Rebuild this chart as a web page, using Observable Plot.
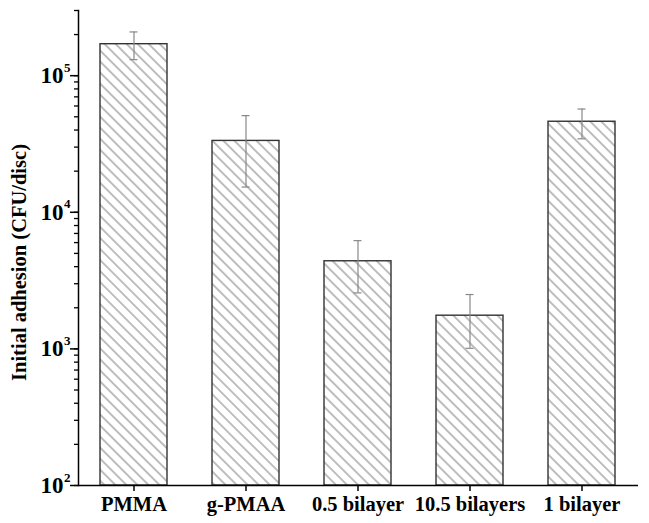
<!DOCTYPE html>
<html><head><meta charset="utf-8">
<script src="https://cdn.jsdelivr.net/npm/d3@7"></script>
<script src="https://cdn.jsdelivr.net/npm/@observablehq/plot@0.6"></script>
<style>body{margin:0;background:#fff}</style>
</head><body><div id="chart"></div>
<script>
const categories = ["PMMA", "g-PMAA", "0.5 bilayer", "10.5 bilayers", "1 bilayer"];
const means = [1.70e5, 3.33e4, 4.38e3, 1.75e3, 4.6e4];
const errLow = [1.31e5, 1.53e4, 2.57e3, 1.01e3, 3.45e4];
const errHigh = [2.09e5, 5.1e4, 6.2e3, 2.5e3, 5.7e4];
const majorTicks = [1e2, 1e3, 1e4, 1e5];
const exponents = ["2", "3", "4", "5"];
const yLabel = "Initial adhesion (CFU/disc)";

const data = categories.map((c, i) => ({category: c, mean: means[i], lo: errLow[i], hi: errHigh[i]}));
const majors = majorTicks.map((v, i) => ({v, e: exponents[i]}));
const yDomain = [100, 3e5];
const minorTicks = d3.scaleLog().domain(yDomain).ticks();
const font = "'Liberation Serif', 'Times New Roman', serif";

const svg = Plot.plot({
  width: 649,
  height: 523,
  marginLeft: 78,
  marginRight: 11,
  marginTop: 10,
  marginBottom: 38,
  style: {fontFamily: font, fontWeight: "bold", background: "#fff", color: "#000"},
  x: {domain: categories, paddingInner: 0.4, paddingOuter: 0.2, align: 0.5, axis: null},
  y: {type: "log", domain: yDomain, axis: null},
  marks: [
    Plot.barY(data, {x: "category", y1: 100, y2: "mean", fill: "url(#hatch)", stroke: "#333", strokeWidth: 1.4}),
    Plot.ruleX(data, {x: "category", y1: "lo", y2: "hi", stroke: "#888", strokeWidth: 1.2}),
    Plot.tickY(data, {x: "category", y: "lo", stroke: "#888", strokeWidth: 1.2, inset: 29.5}),
    Plot.tickY(data, {x: "category", y: "hi", stroke: "#888", strokeWidth: 1.2, inset: 29.5}),
    Plot.axisY({ticks: minorTicks, tickSize: 4, tickFormat: () => "", strokeWidth: 1.3, stroke: "#000"}),
    Plot.axisY({ticks: majorTicks, tickSize: 8, tickFormat: () => "", strokeWidth: 1.5, stroke: "#000"}),
    Plot.text(majors, {y: "v", text: () => "10", frameAnchor: "left", textAnchor: "end", dx: -15, fontSize: 23, fontWeight: "bold"}),
    Plot.text(majors, {y: "v", text: "e", frameAnchor: "left", textAnchor: "start", dx: -14.5, dy: -8, fontSize: 13, fontWeight: "bold"}),
    Plot.frame({anchor: "left", stroke: "#000", strokeWidth: 1.5}),
    Plot.ruleY([100], {stroke: "#000", strokeWidth: 1.5}),
    Plot.axisX({tickSize: 6, tickPadding: 5, fontSize: 20.5, fontWeight: "bold", label: null, strokeWidth: 1.5, stroke: "#000"}),
    Plot.text([yLabel], {frameAnchor: "left", textAnchor: "middle", rotate: -90, dx: -59.5, dy: 14.5, fontSize: 20.5, fontWeight: "bold", text: d => d})
  ]
});

const ns = "http://www.w3.org/2000/svg";
const defs = document.createElementNS(ns, "defs");
defs.innerHTML = `<pattern id="hatch" patternUnits="userSpaceOnUse" width="7.8" height="7.8" patternTransform="rotate(-45)"><rect width="7.8" height="7.8" fill="#fff"/><line x1="3.9" y1="-1" x2="3.9" y2="9" stroke="#444" stroke-width="0.7"/></pattern>`;
svg.insertBefore(defs, svg.firstChild);
document.getElementById("chart").appendChild(svg);
</script>
</body></html>
